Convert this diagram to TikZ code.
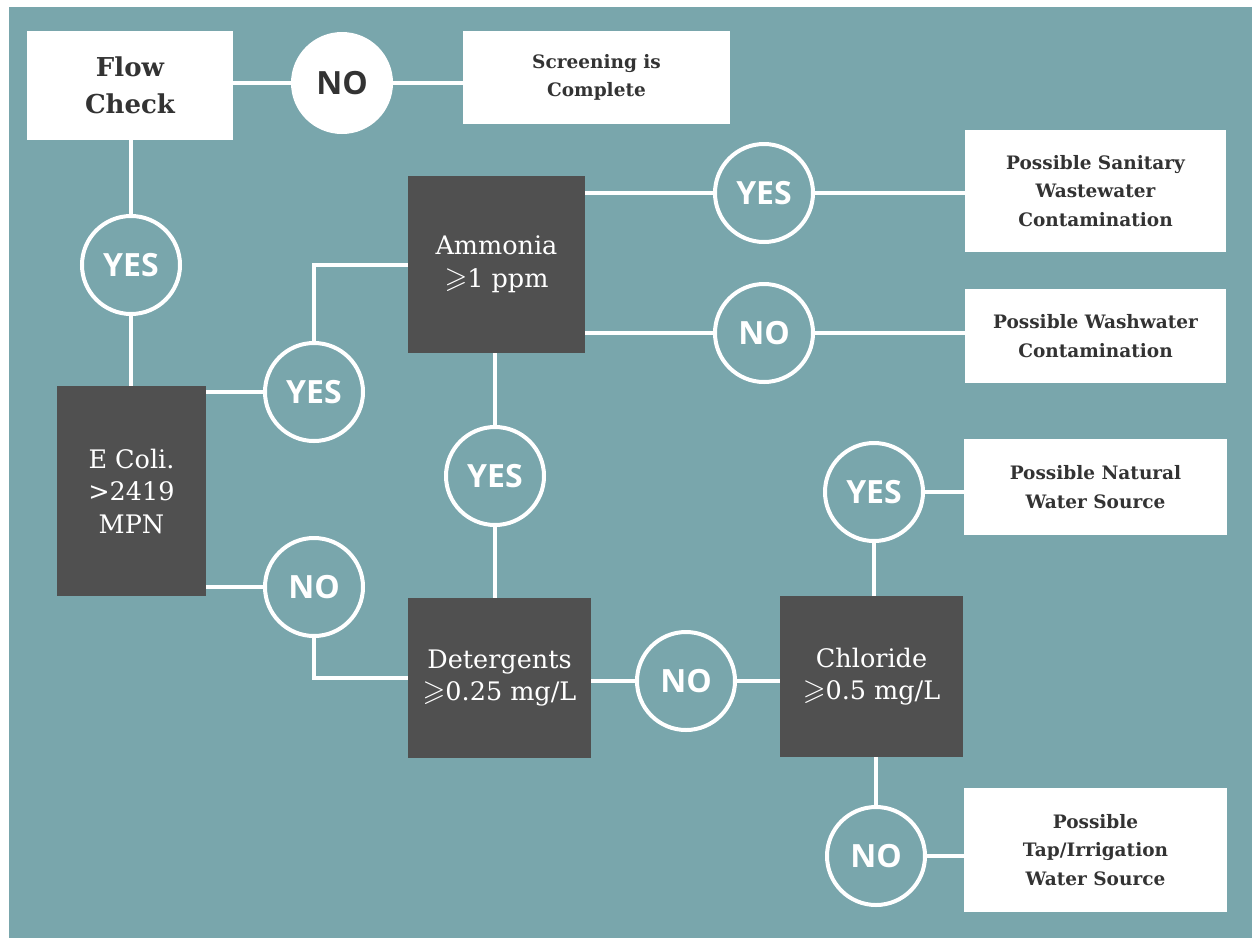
\documentclass[tikz,border=0pt]{standalone}
\usepackage{amssymb}
\usepackage{fontspec}
\newfontfamily\circfont{Open Sans}
\newfontfamily\boxfont{DejaVu Serif}
\usetikzlibrary{backgrounds}
\definecolor{tealbg}{HTML}{79A6AC}
\definecolor{boxgrey}{HTML}{505050}
\definecolor{darktxt}{HTML}{333333}
\newcommand{\gesl}{\scalebox{1.15}{$\geqslant$}}
\tikzset{
  whitebox/.style={fill=white, text=darktxt, align=center, inner sep=0pt,
    font=\boxfont\bfseries\fontsize{18.5}{28.5}\selectfont},
  greybox/.style={fill=boxgrey, text=white, align=center, inner sep=0pt,
    font=\boxfont\fontsize{25.5}{32.5}\selectfont},
  decision/.style={circle, draw=white, line width=4pt, fill=tealbg, text=white,
    minimum size=98pt, inner sep=0pt, font=\circfont\bfseries\fontsize{32}{32}\selectfont},
  stopdot/.style={circle, fill=white, text=darktxt, minimum size=102pt, inner sep=0pt,
    font=\circfont\bfseries\fontsize{32}{32}\selectfont},
  link/.style={draw=white, line width=4pt},
}
\begin{document}
\begin{tikzpicture}[x=1pt,y=-1pt]
\useasboundingbox (0,0) rectangle (1252,938);
\begin{pgfonlayer}{background}
\fill[tealbg] (9,7) rectangle (1252,938);
\end{pgfonlayer}

% boxes
\node[whitebox, minimum width=206pt, minimum height=109pt,
  font=\boxfont\bfseries\fontsize{26}{37}\selectfont] (flow) at (130,85.5) {Flow\\Check};
\node[stopdot] (nodone) at (342,83) {NO};
\node[whitebox, minimum width=267pt, minimum height=93pt] (screen) at (596.5,77.5) {Screening is\\Complete};

\node[decision] (yes1) at (131,265) {YES};
\node[greybox, minimum width=149pt, minimum height=210pt] (ecoli) at (131.5,491) {E Coli.\\>2419\\MPN};
\node[decision] (yes2) at (314,392) {YES};
\node[decision] (no2) at (314,587) {NO};

\node[greybox, minimum width=177pt, minimum height=177pt] (amm) at (496.5,264.5) {Ammonia\\\gesl1 ppm};
\node[decision] (yes3) at (764,193) {YES};
\node[decision] (no3) at (764,333) {NO};
\node[whitebox, minimum width=261pt, minimum height=122pt] (sanit) at (1095.5,191) {Possible Sanitary\\Wastewater\\Contamination};
\node[whitebox, minimum width=261pt, minimum height=94pt] (wash) at (1095.5,336) {Possible Washwater\\Contamination};

\node[decision] (yes4) at (495,476) {YES};
\node[greybox, minimum width=183pt, minimum height=160pt] (det) at (499.5,678) {Detergents\\\gesl0.25 mg/L};
\node[decision] (no4) at (686,681) {NO};
\node[greybox, minimum width=183pt, minimum height=161pt] (chl) at (871.5,676.5) {Chloride\\\gesl0.5 mg/L};

\node[decision] (yes5) at (874,492) {YES};
\node[whitebox, minimum width=263pt, minimum height=96pt] (nat) at (1095.5,487) {Possible Natural\\Water Source};
\node[decision] (no5) at (876,856) {NO};
\node[whitebox, minimum width=263pt, minimum height=124pt] (tap) at (1095.5,850) {Possible\\Tap/Irrigation\\Water Source};

% connectors
\begin{pgfonlayer}{background}
\draw[link] (flow.east |- nodone) -- (nodone) -- (screen.west |- nodone);
\draw[link] (yes1 |- flow.south) -- (yes1) -- (yes1 |- ecoli.north);
\draw[link] (ecoli.east |- yes2) -- (yes2) -- (yes2 |- amm.west) -- (amm.west);
\draw[link] (ecoli.east |- no2) -- (no2) -- (no2 |- det.west) -- (det.west);
\draw[link] (amm.east |- yes3) -- (yes3) -- (sanit.west |- yes3);
\draw[link] (amm.east |- no3) -- (no3) -- (wash.west |- no3);
\draw[link] (yes4 |- amm.south) -- (yes4) -- (yes4 |- det.north);
\draw[link] (det.east |- no4) -- (no4) -- (chl.west |- no4);
\draw[link] (yes5 |- chl.north) -- (yes5) -- (nat.west |- yes5);
\draw[link] (no5 |- chl.south) -- (no5) -- (tap.west |- no5);
\end{pgfonlayer}
\end{tikzpicture}
\end{document}
